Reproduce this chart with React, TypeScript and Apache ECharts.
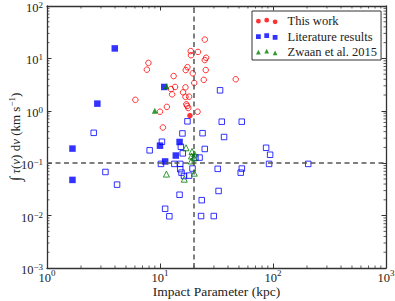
import React, { useEffect, useRef } from "react";
import * as echarts from "echarts";

// ---- data (impact parameter in kpc, integrated optical depth in km/s) ----
const thisWorkOpen: [number, number][] = [
  [24.9, 22.9], [18.7, 13.8], [21.7, 13.3], [18.8, 11.5], [25.6, 10.3], [24.9, 9.3],
  [7.9, 8.2], [7.65, 6.1], [17.5, 6.8], [16.9, 6.0], [25.4, 6.0], [19.5, 5.2],
  [13.2, 4.6], [24.4, 3.9], [46.8, 4.0], [20.1, 3.4], [13.6, 2.85], [16.8, 2.8],
  [12.5, 2.6], [12.8, 2.06], [16.0, 2.25], [16.8, 1.85], [18.1, 1.86], [17.1, 1.33],
  [17.4, 1.24], [17.8, 1.13], [21.5, 0.96], [10.0, 0.96], [11.5, 1.19], [10.6, 0.48],
  [6.05, 1.62],
];
const thisWorkFilled: [number, number][] = [[18.4, 0.81]];

const litFilled: [number, number][] = [
  [3.98, 15.5], [2.79, 1.37], [1.68, 0.19], [1.68, 0.048], [10.9, 2.85],
  [10.0, 0.216], [14.9, 0.254], [13.8, 0.14], [11.1, 0.108],
];
const litOpen: [number, number][] = [
  [2.59, 0.38], [3.29, 0.068], [4.17, 0.039], [8.1, 0.176], [10.4, 0.257],
  [17.5, 0.63], [15.8, 0.37], [15.3, 0.206], [15.9, 0.154], [10.2, 0.097],
  [13.4, 0.097], [15.1, 0.097], [15.1, 0.077], [15.5, 0.066], [16.3, 0.057],
  [18.1, 0.058], [19.4, 0.079], [20.6, 0.128], [22.4, 0.128], [24.9, 0.187],
  [14.9, 0.025], [23.4, 0.0197], [11.1, 0.0135], [12.1, 0.0097], [23.1, 0.0098],
  [29.9, 0.0098], [33.0, 0.0295], [32.4, 0.078], [34.0, 2.46], [35.2, 0.62],
  [52.9, 0.62], [23.8, 0.374], [36.9, 0.316], [53.0, 0.079], [51.8, 0.066],
  [86.9, 0.197], [94.3, 0.145], [92.3, 0.097], [205, 0.097],
];

const zwaanFilled: [number, number][] = [[9.0, 1.0], [11.4, 2.94]];
const zwaanOpen: [number, number][] = [
  [17.0, 0.197], [19.2, 0.167], [20.2, 0.15], [19.0, 0.137], [20.0, 0.126],
  [18.9, 0.11], [20.1, 0.0645], [16.4, 0.0495], [11.4, 0.062],
];

const seriesNames = ["This work", "Literature results", "Zwaan et al. 2015"];
const refLineX = 20;
const refLineY = 0.1;
const xRange = [1, 1000];
const yRange = [0.001, 100];
const minorMultipliers = [2, 3, 4, 5, 6, 7, 8, 9];
const xDecades = [1, 10, 100];
const yDecades = [0.001, 0.01, 0.1, 1, 10];

// ---- styles ----
const SERIF = "'Liberation Serif', 'DejaVu Serif', serif";
const TXT = "#222";
const AX = "#333";
const RED = "#ff0000";
const BLUE = "#0000ff";
const GREEN = "#008000";

const iconCenters: [number, number][] = [[2.4, 3.4], [10.7, 2.4], [19.1, 4.0]];
const R = 2.4;
const circleIcon =
  "path://" +
  iconCenters
    .map(([cx, cy]) => `M${cx - R},${cy} A${R},${R} 0 1,0 ${cx + R},${cy} A${R},${R} 0 1,0 ${cx - R},${cy} Z`)
    .join(" ");
const squareIcon =
  "path://" +
  iconCenters
    .map(([cx, cy]) => `M${cx - R},${cy - R} L${cx + R},${cy - R} L${cx + R},${cy + R} L${cx - R},${cy + R} Z`)
    .join(" ");
const triIcon =
  "path://" +
  iconCenters
    .map(([cx, cy]) => `M${cx},${cy - R} L${cx + R},${cy + R} L${cx - R},${cy + R} Z`)
    .join(" ");

function tickLabel(value: number) {
  const e = Math.round(Math.log10(value));
  const s = e < 0 ? "\u2212" + -e : String(e);
  return `{b|10}{s|${s}}`;
}

const xLabelRich = {
  b: { fontFamily: SERIF, fontSize: 12.5, color: TXT, lineHeight: 16, verticalAlign: "bottom" },
  s: { fontFamily: SERIF, fontSize: 9, color: TXT, lineHeight: 6, verticalAlign: "top" },
};
const yLabelRich = {
  b: { fontFamily: SERIF, fontSize: 12.5, color: TXT, lineHeight: 14, verticalAlign: "bottom" },
  s: { fontFamily: SERIF, fontSize: 9, color: TXT, lineHeight: 5, verticalAlign: "top" },
};

function openItem(v: [number, number], color: string) {
  return {
    value: v,
    itemStyle: { color: "rgba(255,255,255,0)", borderColor: color, borderWidth: 1 },
  };
}

export default function App() {
  const ref = useRef<HTMLDivElement>(null);
  useEffect(() => {
    if (!ref.current) return;
    const chart = echarts.init(ref.current, undefined, { renderer: "svg" });

    const xMinor: number[][] = [];
    xDecades.forEach((d) => minorMultipliers.forEach((k) => xMinor.push([k * d, yRange[0]])));
    const yMinor: number[][] = [];
    yDecades.forEach((d) => minorMultipliers.forEach((k) => yMinor.push([xRange[0], k * d])));

    const axisCommon = {
      type: "log" as const,
      logBase: 10,
      nameMoveOverlap: false,
      axisLine: { show: true, onZero: false, lineStyle: { color: AX, width: 1.3 } },
      axisTick: { show: true, inside: true, length: 4.5, lineStyle: { color: AX, width: 1 } },
      splitLine: { show: false },
      minorTick: { show: false },
    };

    const option: any = {
      animation: false,
      backgroundColor: "#fff",
      grid: { left: 47, right: 9, top: 6, bottom: 33, outerBoundsMode: "none" },
      legend: {
        orient: "vertical",
        left: 252,
        top: 11,
        selectedMode: false,
        data: [
          { name: seriesNames[0], icon: circleIcon, itemStyle: { color: RED, borderWidth: 0 } },
          { name: seriesNames[1], icon: squareIcon, itemStyle: { color: BLUE, borderWidth: 0 } },
          { name: seriesNames[2], icon: triIcon, itemStyle: { color: GREEN, borderWidth: 0 } },
        ],
        itemWidth: 21.5,
        itemHeight: 6.4,
        itemGap: 1.5,
        textStyle: { fontFamily: SERIF, fontSize: 12.5, color: TXT, lineHeight: 14, padding: [0, 0, 0, 5] },
        padding: [3, 4, 1, 4],
        borderColor: AX,
        borderWidth: 1,
        borderRadius: 0,
        backgroundColor: "#fff",
      },
      xAxis: [
        {
          ...axisCommon,
          position: "bottom",
          min: xRange[0],
          max: xRange[1],
          name: "Impact Parameter (kpc)",
          nameLocation: "middle",
          nameGap: 16,
          nameTextStyle: { fontFamily: SERIF, fontSize: 13.5, color: TXT, verticalAlign: "top" },
          axisLabel: { formatter: tickLabel, rich: xLabelRich, margin: 0 },
        },
        {
          ...axisCommon,
          position: "top",
          min: xRange[0],
          max: xRange[1],
          axisLabel: { show: false },
        },
      ],
      yAxis: [
        {
          ...axisCommon,
          position: "left",
          min: yRange[0],
          max: yRange[1],
          name:
            "{int|\u222B}{r| }{i|\u03C4}{r|(}{i|\u03BD}{r|) d}{i|v}{r| (km s}{s|\u22121}{r|)}",
          nameLocation: "middle",
          nameRotate: 90,
          nameGap: 24,
          nameTextStyle: {
            rich: {
              int: { fontFamily: SERIF, fontSize: 16, color: TXT, fontStyle: "italic" },
              r: { fontFamily: SERIF, fontSize: 13, color: TXT },
              i: { fontFamily: SERIF, fontSize: 13, color: TXT, fontStyle: "italic" },
              s: { fontFamily: SERIF, fontSize: 9, color: TXT, verticalAlign: "top", lineHeight: 9 },
            },
          },
          axisLabel: { formatter: tickLabel, rich: yLabelRich, margin: 4, padding: [3, 0, 0, 0] },
        },
        {
          ...axisCommon,
          position: "right",
          min: yRange[0],
          max: yRange[1],
          axisLabel: { show: false },
        },
      ],
      series: [
        {
          name: seriesNames[0],
          type: "scatter",
          symbol: "circle",
          symbolSize: 5.5,
          itemStyle: { color: RED },
          data: [...thisWorkOpen.map((v) => openItem(v, RED)), ...thisWorkFilled.map((v) => ({ value: v }))],
          markLine: {
            silent: true,
            symbol: ["none", "none"],
            label: { show: false },
            lineStyle: { color: "#555", width: 1.5, type: [5, 3.5] },
            data: [{ xAxis: refLineX }, { yAxis: refLineY }],
          },
          z: 3,
        },
        {
          name: seriesNames[1],
          type: "scatter",
          symbol: "rect",
          symbolSize: 5.5,
          itemStyle: { color: BLUE },
          data: [...litOpen.map((v) => openItem(v, BLUE)), ...litFilled.map((v) => ({ value: v, symbolSize: 6.5 }))],
          z: 4,
        },
        {
          name: seriesNames[2],
          type: "scatter",
          symbol: "triangle",
          symbolSize: 6,
          itemStyle: { color: GREEN },
          data: [...zwaanOpen.map((v) => openItem(v, GREEN)), ...zwaanFilled.map((v) => ({ value: v }))],
          z: 5,
        },
        {
          type: "custom",
          silent: true,
          data: xMinor,
          renderItem: (_p: any, api: any) => {
            const v = api.value(0);
            const b = api.coord([v, yRange[0]]);
            const t = api.coord([v, yRange[1]]);
            return {
              type: "group",
              children: [
                { type: "line", shape: { x1: b[0], y1: b[1], x2: b[0], y2: b[1] - 2.5 }, style: { stroke: AX, lineWidth: 0.8 } },
                { type: "line", shape: { x1: t[0], y1: t[1], x2: t[0], y2: t[1] + 2.5 }, style: { stroke: AX, lineWidth: 0.8 } },
              ],
            };
          },
          z: 1,
        },
        {
          type: "custom",
          silent: true,
          data: yMinor,
          renderItem: (_p: any, api: any) => {
            const v = api.value(1);
            const l = api.coord([xRange[0], v]);
            const r = api.coord([xRange[1], v]);
            return {
              type: "group",
              children: [
                { type: "line", shape: { x1: l[0], y1: l[1], x2: l[0] + 2.5, y2: l[1] }, style: { stroke: AX, lineWidth: 0.8 } },
                { type: "line", shape: { x1: r[0], y1: r[1], x2: r[0] - 2.5, y2: r[1] }, style: { stroke: AX, lineWidth: 0.8 } },
              ],
            };
          },
          z: 1,
        },
      ],
    };

    chart.setOption(option);
    return () => chart.dispose();
  }, []);

  return (
    <div
      ref={ref}
      style={{ position: "absolute", left: 0, top: 0, width: 395, height: 301, background: "#fff" }}
    />
  );
}
